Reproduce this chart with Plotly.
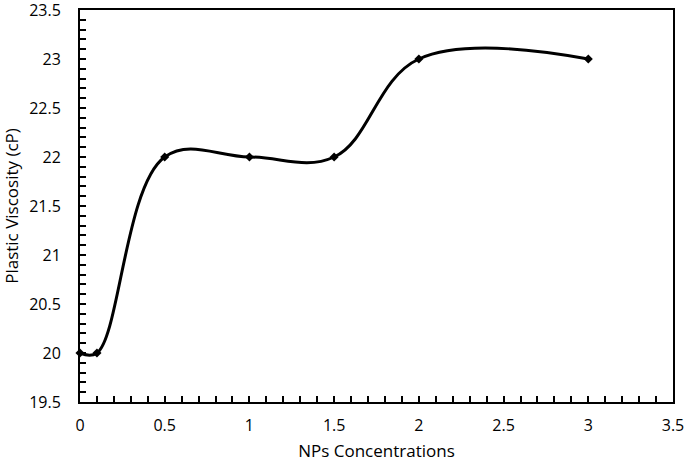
import plotly.graph_objects as go

conc = [0, 0.1, 0.5, 1, 1.5, 2, 3]
viscosity = [20, 20, 22, 22, 22, 23, 23]
x_ticks = [0, 0.5, 1, 1.5, 2, 2.5, 3, 3.5]
x_labels = ["0", "0.5", "1", "1.5", "2", "2.5", "3", "3.5"]
y_ticks = [19.5, 20, 20.5, 21, 21.5, 22, 22.5, 23, 23.5]
y_labels = ["19.5", "20", "20.5", "21", "21.5", "22", "22.5", "23", "23.5"]

fig = go.Figure()
fig.add_trace(go.Scatter(
    x=conc, y=viscosity, mode="lines+markers",
    line=dict(color="black", width=3, shape="spline", smoothing=1.1),
    marker=dict(symbol="diamond", size=7, color="black"),
    cliponaxis=False,
))

font = "Open Sans, Liberation Sans, sans-serif"
axis_common = dict(
    showline=True, linecolor="black", linewidth=2, mirror=True,
    ticks="inside", ticklen=6, tickcolor="black", tickwidth=1.5,
    showgrid=False, zeroline=False, automargin=False,
    ticklabeloverflow="allow",
    tickfont=dict(family=font, size=16, color="black"),
)
fig.update_xaxes(
    range=[0, 3.5], tickvals=x_ticks, ticktext=x_labels,
    ticklabelstandoff=8,
    minor=dict(dtick=0.1, tick0=0, ticks="inside", ticklen=6, tickcolor="black", tickwidth=1.5),
    title=dict(text="NPs Concentrations", font=dict(family=font, size=17, color="black"), standoff=10),
    **axis_common,
)
fig.update_yaxes(
    range=[19.5, 23.5], tickvals=y_ticks, ticktext=y_labels,
    ticklabelstandoff=14,
    minor=dict(dtick=0.1, tick0=19.5, ticks="inside", ticklen=6, tickcolor="black", tickwidth=1.5),
    title=dict(text="Plastic Viscosity (cP)", font=dict(family=font, size=17, color="black"), standoff=10),
    **axis_common,
)
fig.update_layout(
    width=685, height=467,
    margin=dict(l=80, r=12, t=10, b=65),
    plot_bgcolor="white", paper_bgcolor="white",
    showlegend=False,
)
fig.write_html(
    "out.html",
    config={"displayModeBar": False},
    post_script="document.body.style.margin='0';document.body.style.overflow='hidden';",
)
